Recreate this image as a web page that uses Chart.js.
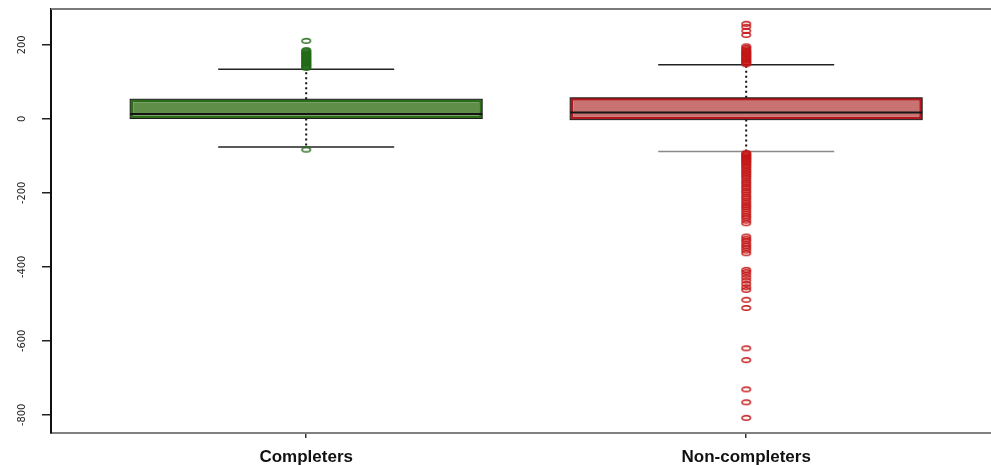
<!DOCTYPE html>
<html>
<head>
<meta charset="utf-8">
<script src="https://cdn.jsdelivr.net/npm/chart.js@4/dist/chart.umd.min.js"></script>
<style>
  html, body { margin: 0; padding: 0; background: #fff; overflow: hidden; }
  canvas { display: block; }
</style>
</head>
<body>
<canvas id="c" width="991" height="465"></canvas>
<script>
// Box-plot summaries per group
const categories = ['Completers', 'Non-completers'];
const lowerWhisker = [-76, -88];
const q1 = [1, -2];
const median = [13, 17];
const q3 = [53, 57];
const upperWhisker = [134, 146];

// Points beyond the whiskers
const completerOutliers = [
  -83,
  138, 140, 143, 145, 148, 151, 153, 156, 158, 161, 164, 166, 169, 172,
  175, 177, 180, 183, 186, 211
];
const nonCompleterOutliers = [
  148, 151, 154, 157, 160, 163, 166, 169, 172, 175, 178, 181, 184, 188,
  192, 196, 227, 238, 249, 257,
  -92, -95, -98, -101, -104, -107, -110, -113, -117, -120, -124, -128,
  -132, -137, -141, -146, -150, -155, -160, -166, -171, -176, -182, -187,
  -193, -198, -204, -210, -215, -221, -227, -233, -238, -244, -250, -256,
  -262, -268, -275, -282, -318, -324, -330, -337, -343, -349, -356, -363,
  -408, -414, -421, -429, -437, -446, -455, -462, -489, -511,
  -620, -652, -731, -766, -808
];

// Axis ticks
const yTicks = [200, 0, -200, -400, -600, -800];

const boxFill = ['#5f8e48', '#c87272'];
const boxEdge = ['#2c6d19', '#b3161c'];
const ringColor = ['#236b18', '#c41616'];

// Open elliptical marker used for outliers
function ring(color) {
  const c = document.createElement('canvas');
  c.width = 12; c.height = 8;
  const g = c.getContext('2d');
  g.strokeStyle = color;
  g.lineWidth = 1.5;
  g.beginPath();
  g.ellipse(6, 4, 4.2, 2.3, 0, 0, Math.PI * 2);
  g.stroke();
  return c;
}

function seg(ctx, x1, y1, x2, y2) {
  ctx.beginPath(); ctx.moveTo(x1, y1); ctx.lineTo(x2, y2); ctx.stroke();
}

// Whiskers, staples, box outline and median bars
const boxParts = {
  id: 'boxParts',
  beforeDatasetsDraw(chart) {
    const { ctx, scales: { y } } = chart;
    chart.getDatasetMeta(0).data.forEach((bar, i) => {
      const { x, width } = bar.getProps(['x', 'width'], true);
      const capHalf = width / 4;
      ctx.save();
      ctx.strokeStyle = '#111';
      ctx.lineWidth = 2;
      ctx.setLineDash([2, 3]);
      seg(ctx, x, y.getPixelForValue(q3[i]), x, y.getPixelForValue(upperWhisker[i]));
      seg(ctx, x, y.getPixelForValue(q1[i]), x, y.getPixelForValue(lowerWhisker[i]));
      ctx.setLineDash([]);
      ctx.lineWidth = 1.5;
      ctx.strokeStyle = '#222';
      const yu = y.getPixelForValue(upperWhisker[i]);
      seg(ctx, x - capHalf, yu, x + capHalf, yu);
      ctx.strokeStyle = i === 1 ? '#8a8a8a' : '#222';
      const yl = y.getPixelForValue(lowerWhisker[i]);
      seg(ctx, x - capHalf, yl, x + capHalf, yl);
      ctx.restore();
    });
  },
  afterDatasetDraw(chart, args) {
    if (args.index !== 0) return;
    const { ctx, scales: { y } } = chart;
    chart.getDatasetMeta(0).data.forEach((bar, i) => {
      const { x, width } = bar.getProps(['x', 'width'], true);
      const top = y.getPixelForValue(q3[i]);
      const bot = y.getPixelForValue(q1[i]);
      ctx.save();
      ctx.strokeStyle = '#1a1a1a';
      ctx.lineWidth = 1;
      ctx.strokeRect(x - width / 2, top, width, bot - top);
      const ym = y.getPixelForValue(median[i]);
      ctx.lineWidth = 2;
      ctx.strokeStyle = '#151515';
      seg(ctx, x - width / 2, ym, x + width / 2, ym);
      ctx.restore();
    });
  },
  afterDraw(chart) {
    const { ctx, chartArea, scales: { y } } = chart;
    ctx.save();
    // top frame line
    ctx.strokeStyle = '#7a7a7a';
    ctx.lineWidth = 2;
    seg(ctx, chartArea.left, chartArea.top, chartArea.right, chartArea.top);
    // vertical y tick labels
    ctx.fillStyle = '#222';
    ctx.font = '11px "Liberation Sans Narrow", "DejaVu Sans Condensed", sans-serif';
    ctx.textAlign = 'center';
    ctx.textBaseline = 'middle';
    y.ticks.forEach(t => {
      ctx.save();
      ctx.translate(22, y.getPixelForValue(t.value));
      ctx.rotate(-Math.PI / 2);
      ctx.fillText(String(t.value), 0, 0);
      ctx.restore();
    });
    ctx.restore();
  }
};

const outlierSets = [completerOutliers, nonCompleterOutliers];

new Chart(document.getElementById('c'), {
  type: 'bar',
  data: {
    datasets: [
      {
        type: 'bar',
        data: categories.map((c, i) => ({ x: i + 1, y: [q1[i], q3[i]] })),
        backgroundColor: boxFill,
        borderColor: boxEdge,
        borderWidth: 3,
        borderSkipped: false,
        barPercentage: 0.8,
        categoryPercentage: 1
      },
      ...outlierSets.map((vals, i) => ({
        type: 'scatter',
        data: vals.map(v => ({ x: i + 1, y: v })),
        pointStyle: ring(ringColor[i]),
        pointRadius: 4,
        showLine: false
      }))
    ]
  },
  options: {
    responsive: false,
    animation: false,
    layout: { autoPadding: false, padding: { top: 9, right: 0, left: 0, bottom: 0 } },
    plugins: { legend: { display: false }, tooltip: { enabled: false } },
    scales: {
      x: {
        type: 'linear',
        min: 0.42,
        max: 2.5564,
        offset: false,
        afterBuildTicks(scale) {
          scale.ticks = categories.map((c, i) => ({ value: i + 1 }));
        },
        afterFit(scale) {
          scale.height = 32;
          scale.paddingLeft = 0;
          scale.paddingRight = 0;
        },
        ticks: {
          autoSkip: false,
          maxRotation: 0,
          padding: 9,
          color: '#111',
          font: { family: '"Liberation Sans", Arial, sans-serif', size: 17, weight: 'bold' },
          callback: v => categories[v - 1] || ''
        },
        grid: { offset: false, drawOnChartArea: false, drawTicks: true, tickLength: 5, color: '#333', lineWidth: 1.5 },
        border: { display: true, color: '#808080', width: 2 }
      },
      y: {
        min: -849,
        max: 297,
        afterBuildTicks(scale) {
          scale.ticks = yTicks.map(v => ({ value: v }));
        },
        afterFit(scale) {
          scale.width = 51;
          scale.paddingTop = 0;
          scale.paddingBottom = 0;
        },
        ticks: { display: false },
        grid: { drawOnChartArea: false, drawTicks: true, tickLength: 9, color: '#222', lineWidth: 1.5 },
        border: { display: true, color: '#111', width: 2 }
      }
    }
  },
  plugins: [boxParts]
});
</script>
</body>
</html>
